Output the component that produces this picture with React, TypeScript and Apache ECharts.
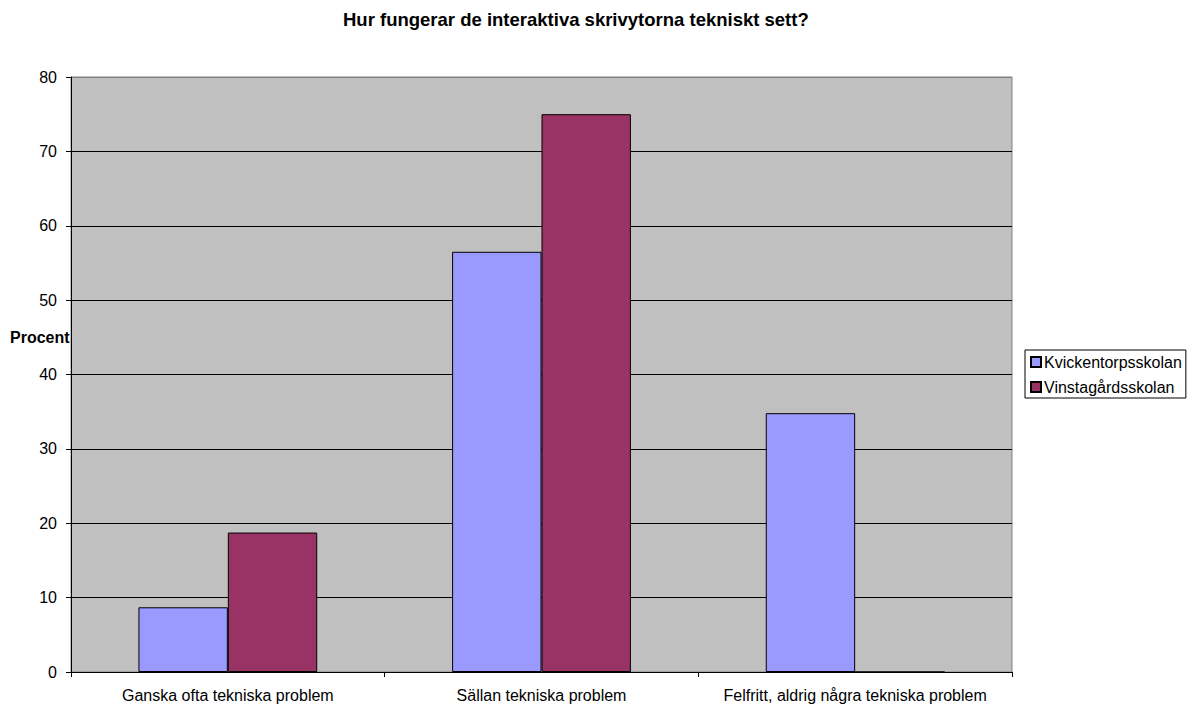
import React, { useEffect, useRef } from "react";
import * as echarts from "echarts";

const categories = [
  "Ganska ofta tekniska problem",
  "Sällan tekniska problem",
  "Felfritt, aldrig några tekniska problem",
];
const seriesNames = ["Kvickentorpsskolan", "Vinstagårdsskolan"];
const kvickentorpValues = [8.7, 56.5, 34.8];
const vinstagardValues = [18.75, 75, 0];
const yTicks = [0, 10, 20, 30, 40, 50, 60, 70, 80];

const FONT = "'Liberation Sans', Arial, sans-serif";

export default function App() {
  const ref = useRef<HTMLDivElement>(null);
  useEffect(() => {
    document.body.style.margin = "0";
    if (!ref.current) return;
    const chart = echarts.init(ref.current, null, { renderer: "svg" });
    const splitColors = yTicks.map((t, i) => (i === yTicks.length - 1 ? "#808080" : "#000000"));
    chart.setOption({
      animation: false,
      backgroundColor: "#ffffff",
      textStyle: { fontFamily: FONT },
      title: {
        text: "Hur fungerar de interaktiva skrivytorna tekniskt sett?",
        left: 343,
        top: 10,
        padding: 0,
        textStyle: { fontFamily: FONT, fontSize: 18.5, fontWeight: "bold", color: "#000" },
      },
      grid: {
        left: 71,
        right: 176,
        top: 77,
        bottom: 32,
        show: true,
        backgroundColor: "#C0C0C0",
        borderColor: "#808080",
        borderWidth: 1,
      },
      legend: {
        orient: "vertical",
        left: 1025,
        top: 350,
        data: seriesNames,
        backgroundColor: "#ffffff",
        borderColor: "#000000",
        borderWidth: 1,
        borderRadius: 0,
        padding: [4, 4, 3, 5],
        itemWidth: 10,
        itemHeight: 10,
        itemGap: 9,
        icon: "rect",
        textStyle: { fontFamily: FONT, fontSize: 16, color: "#000", padding: [0, 0, 0, -2] },
      },
      graphic: [
        {
          type: "text",
          left: 10,
          top: 329,
          style: { text: "Procent", font: `bold 16px ${FONT}`, fill: "#000" },
        },
      ],
      xAxis: {
        type: "category",
        data: categories,
        boundaryGap: true,
        axisLine: { show: true, lineStyle: { color: "#000", width: 1 } },
        axisTick: { show: true, length: 5, inside: false, alignWithLabel: false, lineStyle: { color: "#000" } },
        axisLabel: {
          fontFamily: FONT,
          fontSize: 16,
          color: "#000",
          margin: 15,
          interval: 0,
          hideOverlap: false,
        },
        splitLine: { show: false },
      },
      yAxis: {
        type: "value",
        min: 0,
        max: 80,
        interval: 10,
        axisLine: { show: true, lineStyle: { color: "#000", width: 1 } },
        axisTick: { show: true, length: 5, inside: false, lineStyle: { color: "#000" } },
        axisLabel: { fontFamily: FONT, fontSize: 16, color: "#000", margin: 14 },
        splitLine: { show: true, lineStyle: { color: splitColors, width: 1 } },
      },
      series: [
        {
          name: seriesNames[0],
          type: "bar",
          data: kvickentorpValues,
          barGap: "0%",
          barCategoryGap: "43%",
          itemStyle: { color: "#9999FF", borderColor: "#000", borderWidth: 1 },
        },
        {
          name: seriesNames[1],
          type: "bar",
          data: vinstagardValues,
          barGap: "0%",
          barCategoryGap: "43%",
          itemStyle: { color: "#993366", borderColor: "#000", borderWidth: 1 },
        },
      ],
    });
    return () => chart.dispose();
  }, []);
  return <div ref={ref} style={{ width: 1188, height: 704 }} />;
}
